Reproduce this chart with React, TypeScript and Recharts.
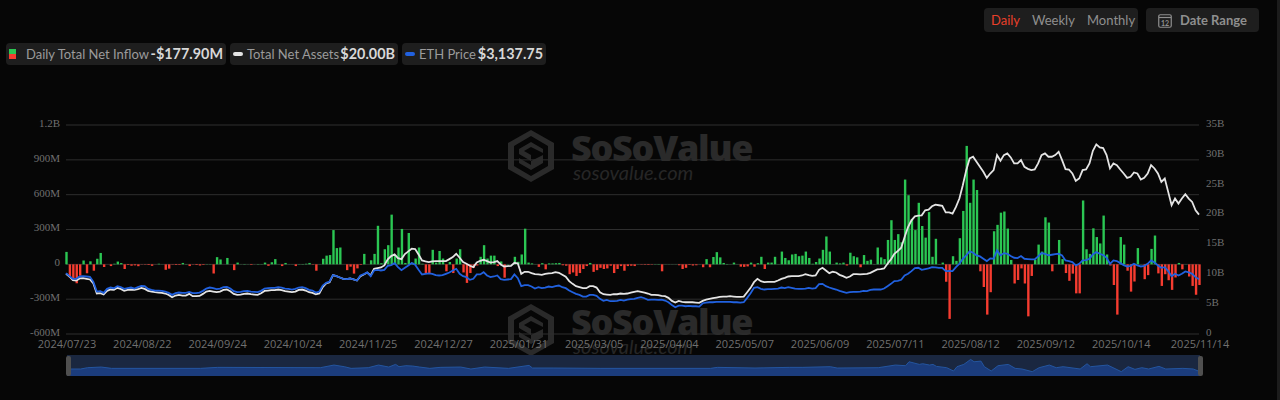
import React from 'react';
import { Area, AreaChart, Bar, CartesianGrid, Cell, ComposedChart, Line, XAxis, YAxis } from 'recharts';

// daily net inflow, $M
const inflow = [
  107, -113, -133, -163, -98, 33, -77, 26, -55, 48, 98, -23, 0, -15, 5, 24, 11, -40, -6, -12,
  -9, -16, -2, -3, -6, -13, -1, 5, 1, -47, -37, -3, -6, -5, 12, 2, -15, -2, -6, -10,
  -5, 2, 2, -79, 62, 42, 0, 55, 0, -50, 15, 1, 3, 1, -5, 1, 3, 2, 15, -13,
  18, 45, 1, -15, 12, 1, 1, -15, 2, 3, 5, 12, -3, -55, 1, 48, 75, 80, 295, 140,
  145, 0, -50, -20, -80, -35, -5, 90, 0, 35, 90, 332, 10, 130, 165, 428, 80, 145, 305, 12,
  270, 15, 50, 145, 5, -75, -75, 125, 15, 115, 50, -60, 20, -75, 50, 130, -70, -160, -75, -30,
  -10, 65, 165, 50, 75, 75, -15, 25, -115, 2, 1, 65, 22, 85, 307, 15, 8, 1, -22, 10,
  -43, 8, 8, 10, 12, -8, -12, -85, -70, -100, -75, -40, -15, 12, -65, -50, -30, -40, -35, -12,
  -75, -40, -15, -55, -15, -12, -15, 1, -3, -4, -5, -3, 2, 3, -60, 1, 1, 1, 1, -8,
  -40, -30, -5, -10, -8, 1, -25, 45, -25, 63, 105, 60, 12, 3, 1, 15, 1, -20, -22, -18,
  15, -20, 10, 65, -40, 15, 15, 65, 1, 110, 55, 35, 85, 90, 70, 75, 110, 55, 5, 20,
  50, 125, 240, 110, 1, 15, 8, 15, -10, 100, 70, 60, -25, 80, 30, 40, 2, 145, 60, 45,
  210, 380, 210, 260, 190, 730, 595, 390, 295, 530, 330, 230, 450, 65, 220, 2, 15, -150, -470, 70,
  30, 225, 460, 1020, 530, 730, 640, -60, -195, -433, -240, 285, 340, 445, 455, 308, 38, -165, -135, -35,
  -165, -448, -100, 40, 170, 110, 405, 360, -60, 1, 210, 45, -75, -142, -80, -250, -250, 550, 130, 90,
  310, 235, 180, 420, 85, -10, -178, -433, 235, 170, -55, -235, -148, 140, 1, -128, -93, 133, 248, -78,
  -186, -85, -137, -220, -113, 12, -43, 1, -105, -186, -262, -177.9,
];

// total net assets, $B
const netAssets = [
  10.08, 9.63, 9.02, 8.96, 9.3, 9.35, 9.24, 9.13, 8.46, 6.78, 6.83, 6.61, 7.22, 7.45, 7.39, 7.73, 7.56, 7.22, 7.39, 7.45,
  7.39, 7.5, 7.73, 7.56, 7.22, 7.11, 7.0, 6.94, 6.89, 6.78, 6.55, 6.16, 6.44, 6.55, 6.44, 6.44, 6.72, 6.33, 6.33, 6.38,
  6.72, 7.11, 7.22, 7.11, 7.0, 7.11, 7.39, 7.45, 7.17, 6.72, 6.55, 6.61, 6.72, 6.78, 6.66, 6.61, 6.55, 6.83, 7.22, 7.28,
  7.34, 7.34, 7.45, 7.34, 7.17, 7.11, 7.0, 7.11, 7.39, 7.45, 7.28, 7.0, 6.89, 6.66, 6.78, 7.84, 8.46, 8.68, 9.86, 9.69,
  9.46, 9.24, 9.18, 9.3, 9.13, 8.96, 9.69, 9.97, 10.3, 9.8, 10.92, 11.03, 11.14, 11.48, 12.49, 13.05, 13.33, 12.71, 12.54, 13.38,
  13.83, 14.28, 14.22, 13.33, 12.32, 12.15, 12.04, 12.15, 12.21, 12.21, 12.21, 12.21, 12.54, 12.88, 13.44, 12.77, 12.04, 11.76, 11.42, 11.2,
  11.98, 12.26, 12.43, 12.21, 11.98, 12.04, 12.21, 11.65, 11.31, 11.37, 11.42, 11.93, 11.82, 10.08, 10.42, 10.42, 10.19, 10.02, 9.97, 9.91,
  10.08, 10.14, 10.19, 10.36, 10.25, 9.91, 9.58, 8.85, 8.4, 8.01, 7.84, 7.67, 7.67, 8.01, 8.01, 7.78, 7.0, 6.66, 6.61, 6.55,
  6.66, 6.66, 6.78, 6.72, 6.78, 6.94, 7.06, 7.17, 7.06, 6.94, 6.78, 6.55, 6.55, 6.5, 6.38, 6.33, 6.05, 5.54, 5.26, 5.54,
  5.38, 5.32, 5.32, 5.32, 5.26, 5.21, 5.54, 5.77, 5.88, 5.99, 6.1, 6.22, 6.27, 6.27, 6.33, 6.27, 6.22, 6.22, 6.27, 7.0,
  7.73, 8.68, 9.24, 8.85, 8.68, 8.74, 8.74, 8.74, 8.96, 9.24, 9.41, 9.63, 9.69, 9.69, 9.69, 9.8, 10.02, 9.86, 9.74, 9.8,
  10.75, 11.09, 10.64, 10.19, 10.42, 10.3, 9.91, 9.69, 9.41, 9.63, 10.02, 10.02, 9.97, 10.02, 10.08, 10.25, 10.53, 10.81, 10.86, 10.98,
  11.76, 12.49, 13.44, 13.89, 14.45, 16.24, 17.92, 19.04, 19.71, 19.82, 19.88, 20.72, 20.83, 21.39, 21.67, 21.56, 21.45, 20.38, 20.38, 20.16,
  21.28, 22.68, 24.92, 27.44, 29.4, 29.68, 28.84, 28.0, 27.16, 26.15, 26.88, 27.44, 29.96, 29.01, 29.96, 30.24, 29.57, 28.56, 28.56, 29.12,
  28.0, 27.66, 27.44, 27.55, 28.56, 29.96, 30.24, 29.68, 29.68, 29.96, 30.52, 29.12, 27.61, 27.55, 26.88, 25.65, 26.04, 27.44, 27.55, 28.56,
  30.69, 31.75, 31.25, 31.14, 29.96, 27.72, 28.56, 28.28, 27.55, 26.88, 26.15, 26.32, 27.05, 26.88, 25.87, 26.15, 26.88, 28.28, 27.72, 26.88,
  25.48, 26.04, 23.8, 21.56, 22.68, 21.84, 22.68, 23.41, 22.68, 22.12, 20.72, 20.0,
];

// ETH price, $
const ethPrice = [
  3494, 3322, 3168, 3168, 3302, 3322, 3302, 3283, 2995, 2438, 2458, 2362, 2592, 2669, 2630, 2746, 2688, 2592, 2630, 2669,
  2611, 2688, 2765, 2746, 2592, 2534, 2496, 2496, 2477, 2438, 2362, 2246, 2342, 2381, 2362, 2362, 2419, 2342, 2342, 2381,
  2477, 2611, 2669, 2630, 2573, 2611, 2688, 2707, 2611, 2458, 2400, 2419, 2458, 2477, 2438, 2419, 2400, 2477, 2611, 2630,
  2650, 2650, 2688, 2669, 2611, 2592, 2554, 2592, 2669, 2688, 2630, 2534, 2496, 2381, 2438, 2784, 2938, 3014, 3379, 3322,
  3245, 3168, 3149, 3187, 3130, 3072, 3360, 3437, 3533, 3322, 3648, 3686, 3648, 3686, 3917, 3955, 4070, 3840, 3667, 3802,
  3936, 4070, 3974, 3686, 3418, 3456, 3475, 3456, 3379, 3360, 3379, 3456, 3533, 3648, 3744, 3456, 3322, 3264, 3110, 3168,
  3418, 3418, 3552, 3360, 3264, 3302, 3360, 3149, 3110, 3130, 3149, 3418, 3206, 2746, 2803, 2803, 2726, 2611, 2688, 2630,
  2669, 2726, 2688, 2746, 2784, 2688, 2630, 2496, 2400, 2304, 2246, 2150, 2150, 2246, 2246, 2189, 2016, 1901, 1958, 1882,
  1882, 1901, 1958, 1920, 1978, 1997, 2016, 2074, 2112, 2054, 1958, 1978, 1978, 1958, 1978, 1920, 1824, 1670, 1536, 1632,
  1632, 1594, 1613, 1594, 1594, 1574, 1766, 1805, 1824, 1824, 1843, 1843, 1843, 1843, 1843, 1824, 1824, 1805, 1824, 2074,
  2342, 2650, 2688, 2592, 2554, 2573, 2573, 2592, 2611, 2669, 2630, 2688, 2650, 2611, 2592, 2592, 2611, 2650, 2611, 2630,
  2861, 2880, 2746, 2669, 2611, 2554, 2477, 2419, 2362, 2400, 2419, 2419, 2438, 2477, 2458, 2534, 2554, 2554, 2554, 2611,
  2746, 2880, 3034, 3053, 3110, 3360, 3456, 3610, 3782, 3802, 3686, 3725, 3763, 3840, 3821, 3802, 3802, 3610, 3629, 3610,
  3840, 4032, 4320, 4512, 4742, 4666, 4512, 4454, 4320, 4186, 4339, 4320, 4800, 4512, 4646, 4608, 4474, 4378, 4358, 4474,
  4320, 4301, 4282, 4282, 4454, 4646, 4608, 4512, 4550, 4589, 4608, 4512, 4224, 4186, 4128, 3936, 4032, 4224, 4243, 4320,
  4570, 4704, 4608, 4531, 4378, 4032, 4224, 4186, 4070, 3955, 3878, 3917, 4032, 3936, 3878, 3917, 4032, 4224, 4109, 3936,
  3802, 3840, 3610, 3322, 3456, 3360, 3456, 3590, 3533, 3456, 3264, 3137.75,
];

const tickDays = [0, 22, 44, 66, 88, 110, 132, 154, 176, 198, 220, 242, 264, 286, 308, 331];
const tickDates = [
  '2024/07/23', '2024/08/22', '2024/09/24', '2024/10/24', '2024/11/25', '2024/12/27', '2025/01/31', '2025/03/05',
  '2025/04/04', '2025/05/07', '2025/06/09', '2025/07/11', '2025/08/12', '2025/09/12', '2025/10/14', '2025/11/14',
];

const inflowTicks = [-600, -300, 0, 300, 600, 900, 1200];
const assetTicks = [0, 5, 10, 15, 20, 25, 30, 35];

// the slider's shadow line
const overviewDays = [
  0, 4, 6, 10, 13, 39, 44, 74, 78, 81, 83, 88, 91, 94, 96, 97, 99, 101, 103, 106, 109, 115, 118, 122, 129, 135, 136, 142,
  156, 188, 190, 201, 211, 215, 223, 225, 237, 242, 245, 246, 249, 250, 252, 253, 254, 257, 259, 260, 262, 264, 265, 267,
  268, 270, 272, 275, 277, 279, 282, 284, 287, 289, 291, 296, 298, 299, 304, 308, 310, 312, 314, 316, 319, 321, 326, 329, 331,
];
const overviewValues = [
  -130, -130, 0, 66, -66, -66, 33, 0, 264, 100, -66, 0, 264, 66, 330, 100, 200, 165, 66, -66, 33, 66, -130, 66, -66, 231, -33, -33,
  -66, -66, 33, -33, 33, 33, 100, -33, 0, 264, 200, 594, 330, 396, 264, 330, 132, 0, -330, 100, 330, 825, 594, 660,
  100, -330, 200, 330, -66, -130, -396, 0, 264, 0, 100, -130, 396, 100, 264, -396, 100, -165, 0, -130, 132, -130, -66, -130, -396,
];

const chartData = inflow.map((value, i) => ({
  day: i,
  inflow: value,
  assets: netAssets[i],
  price: ethPrice[i],
}));
const overviewData = overviewDays.map((day, i) => ({ day, value: overviewValues[i] }));

const formatInflow = (v: number) => {
  if (v === 0) return '0';
  if (Math.abs(v) >= 1000) return `${v / 1000}B`;
  return `${v}M`;
};
const formatAssets = (v: number) => (v === 0 ? '0' : `${v}B`);
const formatDay = (d: number) => tickDates[tickDays.indexOf(d)];

const GREEN = '#2bc653';
const RED = '#f63c30';
const WHITE = '#e4e4e4';
const BLUE = '#2161df';
const SANS = 'Lato, sans-serif';
const axisTick = { fontFamily: '"Liberation Serif", serif', fontSize: 11, fill: '#707070', dy: -2 };

const Watermark = ({ top }: { top: number }) => (
  <div style={{ position: 'absolute', left: 506, top, width: 260, height: 60 }}>
    <svg width={50} height={56} viewBox="0 0 50 56" style={{ position: 'absolute', left: 0, top: 0 }}>
      <path
        d="M25 2 L48 15 L48 41 L25 54 L2 41 L2 15 Z M25 8 L8 18 L8 38 L25 48 L42 38 L42 18 Z"
        fill="#2a2a2a"
        fillRule="evenodd"
      />
      <path d="M25 14 L37 21 L37 25 L25 19 L18 23 L25 27 L25 33 L13 26 L13 21 Z" fill="#2a2a2a" />
      <path d="M25 33 L37 27 L37 35 L25 42 L13 35 L13 30 L25 37 Z" fill="#2a2a2a" />
    </svg>
    <div
      style={{
        position: 'absolute',
        left: 65,
        top: 0,
        fontFamily: '"Open Sans", sans-serif',
        fontWeight: 800,
        fontSize: 36,
        lineHeight: '40px',
        color: '#2a2a2a',
        whiteSpace: 'nowrap',
        letterSpacing: -1.3,
      }}
    >
      SoSoValue
    </div>
    <div
      style={{
        position: 'absolute',
        left: 67,
        top: 33,
        fontFamily: SANS,
        fontStyle: 'italic',
        fontSize: 20,
        lineHeight: '22px',
        color: '#262626',
        whiteSpace: 'nowrap',
      }}
    >
      sosovalue.com
    </div>
  </div>
);

const LegendPill = ({
  left,
  width,
  labelLeft,
  label,
  value,
  children,
}: {
  left: number;
  width: number;
  labelLeft: number;
  label: string;
  value: string;
  children: React.ReactNode;
}) => (
  <div
    style={{
      position: 'absolute',
      left,
      top: 43,
      width,
      height: 22,
      background: '#1e1e1e',
      borderRadius: 4,
      fontFamily: SANS,
      lineHeight: '22px',
      whiteSpace: 'nowrap',
    }}
  >
    {children}
    <span style={{ position: 'absolute', left: labelLeft, fontSize: 13, color: '#9b9b9b' }}>{label}</span>
    <span style={{ position: 'absolute', right: 3, fontSize: 14.4, fontWeight: 700, color: '#d8d8d8' }}>{value}</span>
  </div>
);

const Handle = ({ left }: { left: number }) => (
  <div style={{ position: 'absolute', left, top: 356, width: 5, height: 20, borderRadius: 2, background: '#4f4f4f' }} />
);

const App = () => {
  return (
    <div style={{ position: 'fixed', left: 0, top: 0, width: 1280, height: 400, background: '#060606', overflow: 'hidden' }}>
      <div style={{ position: 'absolute', left: 1277, top: 0, width: 3, height: 400, background: '#1c1c1c' }} />

      <LegendPill left={6} width={220} labelLeft={20} label="Daily Total Net Inflow" value="-$177.90M">
        <div style={{ position: 'absolute', left: 3, top: 6, width: 7, height: 5, background: GREEN }} />
        <div style={{ position: 'absolute', left: 3, top: 11, width: 7, height: 5, background: RED }} />
      </LegendPill>
      <LegendPill left={230} width={168} labelLeft={17} label="Total Net Assets" value="$20.00B">
        <div style={{ position: 'absolute', left: 3, top: 9, width: 10, height: 4, borderRadius: 2, background: WHITE }} />
      </LegendPill>
      <LegendPill left={402} width={144} labelLeft={17} label="ETH Price" value="$3,137.75">
        <div style={{ position: 'absolute', left: 3, top: 9, width: 10, height: 4, borderRadius: 2, background: BLUE }} />
      </LegendPill>

      <div
        style={{
          position: 'absolute',
          left: 984,
          top: 8,
          width: 154,
          height: 24,
          background: '#1e1e1e',
          borderRadius: 4,
          fontFamily: SANS,
          fontSize: 13,
          lineHeight: '24px',
          color: '#8f8f8f',
        }}
      >
        <span style={{ position: 'absolute', left: 7, color: '#e8402a' }}>Daily</span>
        <span style={{ position: 'absolute', left: 48 }}>Weekly</span>
        <span style={{ position: 'absolute', left: 103 }}>Monthly</span>
      </div>
      <div
        style={{
          position: 'absolute',
          left: 1146,
          top: 8,
          width: 113,
          height: 24,
          background: '#1e1e1e',
          borderRadius: 4,
          fontFamily: SANS,
          fontSize: 13,
          fontWeight: 700,
          lineHeight: '24px',
          color: '#8f8f8f',
        }}
      >
        <svg width={14} height={15} viewBox="0 0 14 15" style={{ position: 'absolute', left: 12, top: 5 }}>
          <rect x={0.75} y={1.75} width={12.5} height={12.5} rx={1.5} fill="none" stroke="#8f8f8f" strokeWidth={1.2} />
          <line x1={1} y1={4.5} x2={13} y2={4.5} stroke="#8f8f8f" strokeWidth={1.2} />
          <text x={7} y={12.5} textAnchor="middle" fontSize={7} fontFamily={SANS} fill="#8f8f8f">
            12
          </text>
        </svg>
        <span style={{ position: 'absolute', left: 34 }}>Date Range</span>
      </div>

      <Watermark top={128} />
      <Watermark top={302} />

      <div style={{ position: 'absolute', left: 0, top: 0 }}>
        <ComposedChart
          width={1280}
          height={354}
          data={chartData}
          margin={{ top: 125, right: 31, bottom: 0, left: 8 }}
        >
          <CartesianGrid yAxisId="left" vertical={false} stroke="#2e2e2e" />
          <XAxis
            dataKey="day"
            scale="point"
            ticks={tickDays}
            interval={0}
            tickFormatter={formatDay}
            axisLine={false}
            tickLine={false}
            height={20}
            tickMargin={0}
            tick={{ fontFamily: '"Open Sans", sans-serif', fontSize: 11, fill: '#707070', dx: 1 }}
          />
          <YAxis
            yAxisId="left"
            width={58}
            domain={[-600, 1200]}
            ticks={inflowTicks}
            tickFormatter={formatInflow}
            axisLine={false}
            tickLine={false}
            tickMargin={0}
            tick={axisTick}
          />
          <YAxis
            yAxisId="right"
            orientation="right"
            width={50}
            domain={[0, 35]}
            ticks={assetTicks}
            tickFormatter={formatAssets}
            axisLine={false}
            tickLine={false}
            tickMargin={1}
            tick={axisTick}
          />
          <YAxis yAxisId="price" hide domain={[0, 12000]} />
          <Bar yAxisId="left" dataKey="inflow" barSize={2.4} isAnimationActive={false}>
            {inflow.map((value, i) => (
              <Cell key={i} fill={value < 0 ? RED : GREEN} />
            ))}
          </Bar>
          <Line yAxisId="right" dataKey="assets" stroke={WHITE} strokeWidth={1.8} dot={false} isAnimationActive={false} />
          <Line yAxisId="price" dataKey="price" stroke={BLUE} strokeWidth={1.8} dot={false} isAnimationActive={false} />
        </ComposedChart>
      </div>

      <div style={{ position: 'absolute', left: 67, top: 355, width: 1133, height: 21, background: '#1a2740' }}>
        <AreaChart width={1133} height={21} data={overviewData} margin={{ top: 0, right: 0, bottom: 0, left: 0 }}>
          <XAxis dataKey="day" type="number" domain={[0, 331]} hide />
          <YAxis hide domain={[-830, 1270]} />
          <Area
            dataKey="value"
            baseValue={-830}
            stroke="#24559f"
            strokeWidth={1}
            fill="#1b3c7c"
            fillOpacity={1}
            dot={false}
            isAnimationActive={false}
          />
        </AreaChart>
      </div>
      <Handle left={66} />
      <Handle left={1198} />
    </div>
  );
};

export default App;
